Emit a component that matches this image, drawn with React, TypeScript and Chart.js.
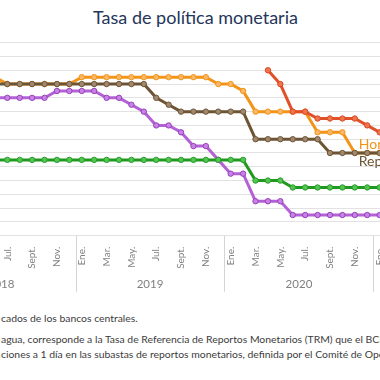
import React, { useEffect, useRef } from 'react';
import { Chart, registerables } from 'chart.js';

Chart.register(...registerables);

// ---- data ----
const categories = [
  '2018-06', '2018-07', '2018-08', '2018-09', '2018-10', '2018-11', '2018-12',
  '2019-01', '2019-02', '2019-03', '2019-04', '2019-05', '2019-06', '2019-07', '2019-08', '2019-09', '2019-10', '2019-11', '2019-12',
  '2020-01', '2020-02', '2020-03', '2020-04', '2020-05', '2020-06', '2020-07', '2020-08', '2020-09', '2020-10', '2020-11', '2020-12',
  '2021-01',
];

const nicaragua = [
  null, null, null, null, null, null, null,
  null, null, null, null, null, null, null, null, null, null, null, null,
  null, null, null, 6.0, 5.5, 4.5, 4.5, 4.25, 4.25, 4.25, 4.25, 4.0,
  3.75,
];
const republicaDominicana = [
  5.5, 5.5, 5.5, 5.5, 5.5, 5.5, 5.5,
  5.5, 5.5, 5.5, 5.5, 5.5, 5.5, 5.0, 4.75, 4.5, 4.5, 4.5, 4.5,
  4.5, 4.5, 3.5, 3.5, 3.5, 3.5, 3.5, 3.5, 3.0, 3.0, 3.0, 3.0,
  3.0,
];
const guatemala = [
  2.75, 2.75, 2.75, 2.75, 2.75, 2.75, 2.75,
  2.75, 2.75, 2.75, 2.75, 2.75, 2.75, 2.75, 2.75, 2.75, 2.75, 2.75, 2.75,
  2.75, 2.75, 2.0, 2.0, 2.0, 1.75, 1.75, 1.75, 1.75, 1.75, 1.75, 1.75,
  1.75,
];
const honduras = [
  5.75, 5.5, 5.5, 5.5, 5.5, 5.5, 5.5,
  5.75, 5.75, 5.75, 5.75, 5.75, 5.75, 5.75, 5.75, 5.75, 5.75, 5.75, 5.5,
  5.5, 5.25, 4.5, 4.5, 4.5, 4.5, 4.5, 3.75, 3.75, 3.75, 3.0, 3.0,
  3.0,
];
const costaRica = [
  5.0, 5.0, 5.0, 5.0, 5.0, 5.25, 5.25,
  5.25, 5.25, 5.0, 5.0, 4.75, 4.5, 4.0, 4.0, 3.75, 3.25, 3.25, 2.75,
  2.25, 2.25, 1.25, 1.25, 1.25, 0.75, 0.75, 0.75, 0.75, 0.75, 0.75, 0.75,
  0.75,
];

const tickMonths = [
  '2018-07', '2018-09', '2018-11', '2019-01', '2019-03', '2019-05', '2019-07', '2019-09', '2019-11',
  '2020-01', '2020-03', '2020-05', '2020-07', '2020-09', '2020-11', '2021-01',
];
const monthNames = ['Ene.', 'Feb.', 'Mar.', 'Abr.', 'May.', 'Jun.', 'Jul.', 'Ago.', 'Sept.', 'Oct.', 'Nov.', 'Dic.'];
const yearLabels = ['2018', '2019', '2020'];

const TITLE = 'Tasa de política monetaria';
const FOOT1 = 'cados de los bancos centrales.';
const FOOT2 = 'agua, corresponde a la Tasa de Referencia de Reportos Monetarios (TRM) que el BCN';
const FOOT3 = 'ciones a 1 día en las subastas de reportos monetarios, definida por el Comité de Operaciones';

const FONT = 'Lato, "Open Sans", sans-serif';

function monthValue(s: string): number {
  const [y, m] = s.split('-').map(Number);
  return (y - 2018) * 12 + (m - 1);
}

const yearSeparatorPlugin = {
  id: 'yearSeparators',
  afterDraw(chart: any) {
    const x = chart.scales.x;
    const x2 = chart.scales.x2;
    const c = chart.ctx;
    c.save();
    c.strokeStyle = '#d4d4d4';
    c.lineWidth = 1;
    yearLabels.forEach((y) => {
      const v = monthValue(`${y}-12`) + 0.5;
      const px = Math.round(x.getPixelForValue(v)) + 0.5;
      c.beginPath();
      c.moveTo(px, chart.chartArea.bottom);
      c.lineTo(px, x2.bottom);
      c.stroke();
    });
    c.restore();
  },
};

const seriesLabelPlugin = {
  id: 'seriesLabels',
  afterDatasetsDraw(chart: any) {
    const x = chart.scales.x;
    const y = chart.scales.y;
    const c = chart.ctx;
    const items = [
      { text: 'Honduras', color: '#f39419', at: '2020-11', value: 3.0, dy: -4 },
      { text: 'República Dominicana', color: '#6d5434', at: '2020-11', value: 3.0, dy: 13 },
    ];
    c.save();
    c.font = `14px ${FONT}`;
    c.textAlign = 'left';
    c.textBaseline = 'alphabetic';
    items.forEach((it) => {
      c.fillStyle = it.color;
      c.fillText(it.text, x.getPixelForValue(monthValue(it.at)) + 4, y.getPixelForValue(it.value) + it.dy);
    });
    c.restore();
  },
};

export default function App() {
  const ref = useRef<HTMLCanvasElement>(null);

  useEffect(() => {
    if (!ref.current) return;
    const xs = categories.map(monthValue);
    const mk = (label: string, data: (number | null)[], line: string, fill: string, border: string) => ({
      label,
      data: data.map((v, i) => ({ x: xs[i], y: v })),
      borderColor: line,
      backgroundColor: fill,
      pointBackgroundColor: fill,
      pointBorderColor: border,
      pointRadius: 2.7,
      pointBorderWidth: 1,
      borderWidth: 3,
      tension: 0,
    });

    const chart = new Chart(ref.current, {
      type: 'line',
      data: {
        datasets: [
          mk('Nicaragua', nicaragua, '#e2502a', '#ef7550', '#d9481f'),
          mk('República Dominicana', republicaDominicana, '#6d5434', '#a08870', '#6d5434'),
          mk('Guatemala', guatemala, '#1f9a1f', '#52c552', '#2a9a2a'),
          mk('Honduras', honduras, '#f39419', '#f9b868', '#f39419'),
          mk('Costa Rica', costaRica, '#b461d6', '#c980e8', '#9242b4'),
        ],
      },
      options: {
        responsive: false,
        animation: false,
        layout: { padding: { left: 90, right: 90, top: 42.7, bottom: 8.3 } },
        plugins: {
          legend: { display: false },
          tooltip: { enabled: false },
          title: { display: false },
        },
        scales: {
          x: {
            type: 'linear',
            position: 'bottom',
            weight: 0,
            min: 5.412,
            max: 36.03,
            grid: { display: false, drawTicks: false },
            border: { display: false },
            afterBuildTicks: (s: any) => {
              s.ticks = tickMonths.map((t) => ({ value: monthValue(t) }));
            },
            afterFit: (s: any) => {
              s.height = 40;
            },
            ticks: {
              autoSkip: false,
              minRotation: 90,
              maxRotation: 90,
              padding: 11,
              color: '#808080',
              font: { family: FONT, size: 10 },
              callback: (v: any) => monthNames[Math.round(Number(v)) % 12],
            },
          },
          x2: {
            type: 'linear',
            position: 'bottom',
            weight: 1,
            min: 5.412,
            max: 36.03,
            grid: { display: false, drawTicks: false },
            border: { display: false },
            afterBuildTicks: (s: any) => {
              s.ticks = yearLabels.map((y) => ({ value: monthValue(`${y}-06`) + 0.5 }));
            },
            afterFit: (s: any) => {
              s.height = 16;
            },
            ticks: {
              autoSkip: false,
              maxRotation: 0,
              minRotation: 0,
              padding: 1.5,
              color: '#808080',
              font: { family: FONT, size: 11.5 },
              callback: (v: any) => yearLabels[Math.floor(Number(v) / 12)] ?? '',
            },
          },
          y: {
            min: 0,
            max: 7,
            ticks: { stepSize: 0.5, display: false },
            grid: { color: '#e2e2e2', drawTicks: false, lineWidth: 1 },
            border: { display: false },
          },
        },
      },
      plugins: [yearSeparatorPlugin, seriesLabelPlugin],
    } as any);

    return () => chart.destroy();
  }, []);

  const footStyle: React.CSSProperties = {
    position: 'absolute',
    left: 1,
    whiteSpace: 'nowrap',
    fontFamily: FONT,
    fontSize: 10.4,
    lineHeight: '14px',
    color: '#3c3c3c',
  };

  return (
    <div style={{ position: 'fixed', left: 0, top: 0, width: 380, height: 380, overflow: 'hidden', background: '#fff' }}>
      <div
        style={{
          position: 'absolute',
          left: 0,
          top: 6.5,
          width: 391,
          textAlign: 'center',
          fontFamily: FONT,
          fontSize: 18,
          lineHeight: '20px',
          color: '#24365a',
          whiteSpace: 'nowrap',
        }}
      >
        {TITLE}
      </div>
      <canvas ref={ref} width={560} height={300} style={{ position: 'absolute', left: -90, top: 0 }} />
      <div style={{ ...footStyle, top: 311 }}>{FOOT1}</div>
      <div style={{ ...footStyle, top: 332 }}>{FOOT2}</div>
      <div style={{ ...footStyle, top: 347 }}>{FOOT3}</div>
    </div>
  );
}
